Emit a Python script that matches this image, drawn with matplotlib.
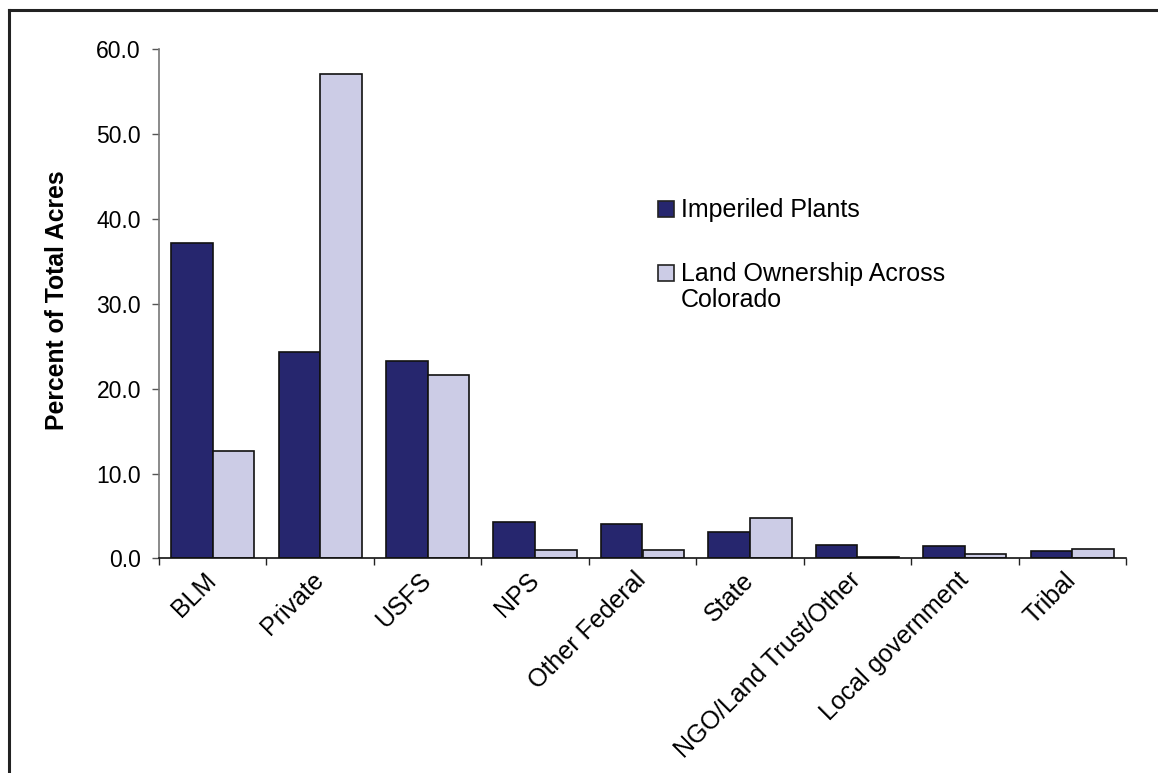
import matplotlib
matplotlib.use("Agg")
import matplotlib.pyplot as plt
from matplotlib.lines import Line2D
from matplotlib.patches import Rectangle
import numpy as np

categories = ["BLM", "Private", "USFS", "NPS", "Other Federal", "State",
              "NGO/Land Trust/Other", "Local government", "Tribal"]
imperiled = [37.2, 24.3, 23.3, 4.3, 4.0, 3.1, 1.6, 1.5, 0.85]
land_ownership = [12.6, 57.1, 21.6, 1.0, 1.0, 4.8, 0.2, 0.5, 1.1]
series_labels = ["Imperiled Plants", "Land Ownership Across\nColorado"]
yticks = [0, 10, 20, 30, 40, 50, 60]

plt.rcParams['font.family'] = ['Liberation Sans', 'DejaVu Sans']

fig = plt.figure(figsize=(11.58, 7.73), dpi=100)
W, H = 1158, 773
ax = fig.add_axes([159 / W, 1 - 558.4 / H, (1126 - 159) / W, (558.4 - 49.3) / H])

n = len(categories)
x = np.arange(n)
bw = 0.387
dark = "#26266E"
light = "#CCCCE6"
colors = [dark, light]
ax.bar(x - bw / 2, imperiled, bw, color=dark, edgecolor="#111111", linewidth=1.2)
ax.bar(x + bw / 2, land_ownership, bw, color=light, edgecolor="#111111", linewidth=1.2)

ax.set_xlim(-0.5, n - 0.5)
ax.set_ylim(0, 60)
ax.set_yticks(yticks)
ax.set_yticklabels([f"{v:.1f}" for v in yticks], fontsize=16.5)
ax.tick_params(axis='y', direction='out', length=5, width=1, color="#555555", pad=8)

ax.set_xticks(x)
ax.set_xticklabels(categories, rotation=45, ha='right', va='center',
                   rotation_mode='anchor', fontsize=18)
ax.tick_params(axis='x', which='major', length=0, pad=13)
ax.set_xticks(np.arange(n + 1) - 0.5, minor=True)
ax.tick_params(axis='x', which='minor', direction='out', length=5, width=1, color="#222222")

for s in ["top", "right"]:
    ax.spines[s].set_visible(False)
ax.spines["left"].set_color("#777777")
ax.spines["left"].set_linewidth(1.2)
ax.spines["bottom"].set_color("#111111")
ax.spines["bottom"].set_linewidth(1.2)

fig.text(57 / W, 1 - 300 / H, "Percent of Total Acres", rotation=90, fontsize=17.8,
         fontweight='bold', ha='center', va='center')

# legend (square handles aligned with first text line)
leg_x = 658
sq_bottoms = [217, 281]
line_gap = 26
sq = 16
for lab, col, yb in zip(series_labels, colors, sq_bottoms):
    fig.add_artist(Rectangle((leg_x / W, 1 - yb / H), sq / W, sq / H,
                             transform=fig.transFigure, facecolor=col,
                             edgecolor="#222222", linewidth=1.2))
    nlines = lab.count("\n")
    t = fig.text((leg_x + sq + 7) / W, 1 - (yb + nlines * line_gap) / H, lab,
                 fontsize=18, ha='left', va='baseline', linespacing=1.08)

# figure border (top and left)
fig.add_artist(Line2D([8.5 / W, 8.5 / W], [0, 1 - 9.5 / H], transform=fig.transFigure,
                      color="#222222", linewidth=2.2))
fig.add_artist(Line2D([8.5 / W, 1], [1 - 9.5 / H, 1 - 9.5 / H], transform=fig.transFigure,
                      color="#222222", linewidth=2.2))

fig.savefig("out.png", dpi=100)
